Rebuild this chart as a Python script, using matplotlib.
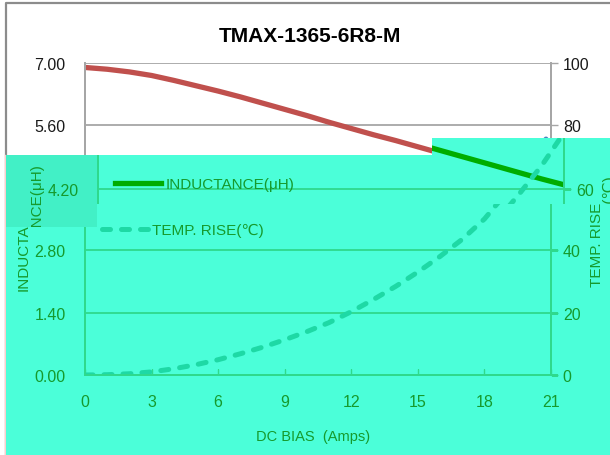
#!/usr/bin/env python3
"""TMAX-1365-6R8-M bias curve, redrawn with the cyan/green glitch overlay."""

import matplotlib

matplotlib.use("Agg")
import matplotlib.pyplot as plt
from matplotlib.lines import Line2D
from matplotlib.patches import Polygon
from matplotlib.path import Path
from matplotlib.text import Text
from matplotlib.transforms import Bbox, IdentityTransform

# ---- data ----
AMPS = list(range(22))
INDUCTANCE = [6.90, 6.86, 6.80, 6.72, 6.61, 6.49, 6.37, 6.24, 6.10, 5.96, 5.82,
              5.67, 5.53, 5.39, 5.26, 5.12, 4.98, 4.84, 4.70, 4.56, 4.42, 4.29]
TEMP_RISE = [0.0, 0.1, 0.4, 1.0, 2.0, 3.3, 4.9, 6.8, 8.9, 11.3, 13.9,
             16.8, 20.3, 24.2, 28.4, 33.0, 38.0, 43.5, 50.0, 58.5, 67.5, 78.0]
X_TICKS = [0, 3, 6, 9, 12, 15, 18, 21]
L_TICKS = [0.0, 1.4, 2.8, 4.2, 5.6, 7.0]
T_TICKS = [0, 20, 40, 60, 80, 100]

TITLE = "TMAX-1365-6R8-M"
X_LABEL = "DC BIAS  (Amps)"
L_LABEL = "INDUCTANCE(μH)"
T_LABEL = "TEMP. RISE(℃)"

# ---- look ----
W, H = 610, 456
FONT = ["Liberation Sans", "DejaVu Sans"]
NORMAL = dict(text="#1a1a1a", grid="#a6a6a6", ind="#c0504d", temp="#4f81bd", bg="white")
GREEN = dict(text="#169a2c", grid="#2fd98c", ind="#00ad00", temp="#1ed9a5", bg="none")
CYAN = "#4bffd9"
CYAN_DARK = "#42f0c6"

BOX = (85, 64, 551, 376)      # plot area in image pixels: left, top, right, bottom
SHIFT = (13, 1)               # the glitched strip is displaced by this much
SPLIT = 97                    # strip is deeper left of this x
STRIP = [(6, 156), (432, 156), (432, 139), (610, 139), (610, 205),
         (SPLIT, 205), (SPLIT, 228), (6, 228)]
LOWER = [(6, 228), (SPLIT, 228), (SPLIT, 205), (610, 205), (610, 456), (6, 456)]
COVER = [(6, 156), (432, 156), (432, 139), (610, 139), (610, 456), (6, 456)]
# rectangles for texts (Agg clips text to boxes only): left / right of SPLIT
STRIP_BOXES = [(6, 156, SPLIT, 228), (SPLIT, 139, 610, 205)]
LOWER_BOXES = [(6, 228, SPLIT, 456), (SPLIT, 205, 610, 456)]

plt.rcParams["font.family"] = FONT


def to_fig(pts):
    return [(x / W, 1 - y / H) for x, y in pts]


def to_path(pts):
    disp = [(x, H - y) for x, y in pts]
    return Path(disp + [disp[0]], closed=True)


def draw_chart(fig, dx, dy, th, z):
    l, t, r, b = BOX
    ax = fig.add_axes([(l + dx) / W, 1 - (b + dy) / H, (r - l) / W, (b - t) / H])
    ax.set_zorder(z)
    ax.set_facecolor(th["bg"])
    ax2 = ax.twinx()
    ax2.set_zorder(z + 0.1)

    ind, = ax.plot(AMPS, INDUCTANCE, color=th["ind"], lw=3.8, label=L_LABEL)
    temp, = ax2.plot(AMPS, TEMP_RISE, color=th["temp"], lw=3.6,
                     linestyle=(0, (1.6, 2.2)), dash_capstyle="round", label=T_LABEL)

    ax.set_xlim(0, 21)
    ax.set_ylim(0, 7)
    ax2.set_ylim(0, 100)
    ax.set_xticks(X_TICKS)
    ax.set_yticks(L_TICKS, [f"{v:.2f}" for v in L_TICKS])
    ax2.set_yticks(T_TICKS)
    ax.yaxis.grid(True, color=th["grid"], lw=1.3)
    ax.set_axisbelow(True)

    ax.tick_params(axis="y", length=0, pad=14, labelsize=11.5, labelcolor=th["text"])
    ax.tick_params(axis="x", direction="in", length=4, width=1, color=th["grid"],
                   pad=14, labelsize=11.5, labelcolor=th["text"])
    ax2.tick_params(axis="y", length=5, width=1, color=th["grid"], pad=3.5,
                    labelsize=11.5, labelcolor=th["text"])
    for a in (ax, ax2):
        a.spines["top"].set_visible(False)
        for s in ("left", "right", "bottom"):
            a.spines[s].set_color(th["grid"])
            a.spines[s].set_linewidth(1.3)

    ax.set_xlabel(X_LABEL, fontsize=10.5, color=th["text"])
    ax.xaxis.set_label_coords(0.489, -0.196)
    ax.set_ylabel(L_LABEL, fontsize=11, color=th["text"])
    ax.yaxis.set_label_coords(-0.131, 0.478)
    ax2.set_ylabel(T_LABEL, fontsize=11, color=th["text"])
    ax2.yaxis.set_label_coords(1.099, 0.465)
    for lab in (ax.xaxis.label, ax.yaxis.label, ax2.yaxis.label):
        lab.set_verticalalignment("center")
        lab.set_horizontalalignment("center")

    ax2.legend(handles=[ind, temp], loc="upper left", bbox_to_anchor=(0.036, 0.637),
               frameon=False, fontsize=11, labelcolor=th["text"], handlelength=3.0,
               handletextpad=0.3, labelspacing=2.15, borderpad=0, borderaxespad=0)
    return [ax, ax2]


def clip_axes(axes, verts, boxes, renderer):
    path = to_path(verts)
    for a in axes:
        for art in a.findobj():
            if art is a:
                continue
            art.set_clip_on(True)
            if isinstance(art, Text):
                ext = art.get_window_extent(renderer)
                x0, y0, x1, y1 = boxes[0] if (ext.x0 + ext.x1) / 2 < SPLIT else boxes[1]
                art.set_clip_box(Bbox.from_extents(x0, H - y1, x1, H - y0))
            else:
                art.set_clip_path(path, IdentityTransform())


fig = plt.figure(figsize=(W / 100, H / 100), dpi=100)
fig.patch.set_facecolor("white")

draw_chart(fig, 0, 0, NORMAL, 0)
lower = draw_chart(fig, 0, 0, GREEN, 1)
strip = draw_chart(fig, SHIFT[0], SHIFT[1], GREEN, 2)

fig.text(310 / W, 1 - 37 / H, TITLE, ha="center", va="center",
         fontsize=15, fontweight="bold", color="black")

# outer chart frame (only top and left edges fall inside the picture)
fig.add_artist(Line2D([6 / W, 6 / W, 1], [0, 1 - 4 / H, 1 - 4 / H],
                      transform=fig.transFigure, color="#8c8c8c", lw=1.6, zorder=0.3))
fig.add_artist(Line2D([5 / W, 5 / W], [0, 1 - 156 / H], transform=fig.transFigure,
                      color="#ffcccc", lw=1.0, zorder=0.3))

# the cyan overlay, with the darker block at the left of the strip
fig.add_artist(Polygon(to_fig(COVER), closed=True, transform=fig.transFigure,
                       facecolor=CYAN, edgecolor="none", zorder=0.5))
fig.add_artist(Polygon(to_fig([(6, 156), (SPLIT, 156), (SPLIT, 228), (6, 228)]),
                       closed=True, transform=fig.transFigure, facecolor=CYAN_DARK,
                       edgecolor="none", zorder=0.6))

fig.canvas.draw()
rend = fig.canvas.get_renderer()
clip_axes(lower, LOWER, LOWER_BOXES, rend)
clip_axes(strip, STRIP, STRIP_BOXES, rend)

fig.savefig("out.png", dpi=100, facecolor="white")
